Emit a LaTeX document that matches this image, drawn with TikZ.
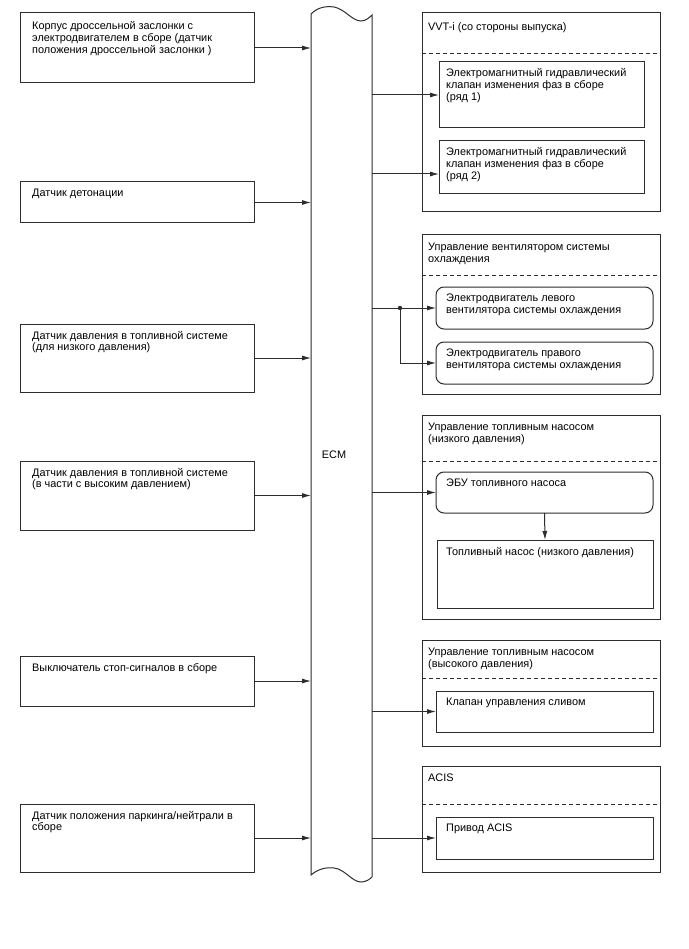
\documentclass[tikz,border=0pt]{standalone}
\usepackage{fontspec}
\setmainfont{Liberation Sans}
\usetikzlibrary{arrows.meta}
\definecolor{lc}{RGB}{45,45,45}
\tikzset{
 box/.style={draw=lc, line width=1pt, inner sep=0pt, outer sep=0pt, anchor=north west},
 rbox/.style={box, rounded corners=8pt},
 txt/.style={inner sep=0pt, anchor=north west, align=left, font=\fontsize{10.9}{11.7}\selectfont},
 arr/.style={draw=lc, line width=1pt, -{Latex[length=9pt,width=5pt]}},
 dsh/.style={draw=lc, line width=1pt, dash pattern=on 4pt off 3pt},
}
\begin{document}
\begin{tikzpicture}[x=1pt,y=-1pt]
\useasboundingbox[fill=white] (0,0) rectangle (688,949);

% ECM
\node[inner sep=0pt, outer sep=0pt, minimum width=61pt, minimum height=863pt, anchor=north west] (ecm) at (311,14) {};
\draw[draw=lc, line width=1pt]
 (311,14) .. controls (318,7) and (326,6) .. (334,7)
 .. controls (345,9) and (352,21) .. (361,21)
 .. controls (366,21) and (370,17) .. (372,15)
 -- (372,877)
 .. controls (370,879) and (366,882) .. (361,882)
 .. controls (352,882) and (345,869) .. (334,868)
 .. controls (326,867) and (318,869) .. (311,875) -- cycle;
\node[txt, anchor=center] (ecmt) at (334,455) {ECM};

% left boxes
\node[box, minimum width=234pt, minimum height=70pt] (L1) at (20,13) {};
\node[txt] (L1t) at (32,21.5) {Корпус дроссельной заслонки с\\электродвигателем в сборе (датчик\\положения дроссельной заслонки )};
\node[box, minimum width=234pt, minimum height=41pt] (L2) at (20,182) {};
\node[txt] (L2t) at (32,189) {Датчик детонации};
\node[box, minimum width=234pt, minimum height=68pt] (L3) at (20,324) {};
\node[txt] (L3t) at (32,331) {Датчик давления в топливной системе\\(для низкого давления)};
\node[box, minimum width=234pt, minimum height=69pt] (L4) at (20,461) {};
\node[txt] (L4t) at (32,468) {Датчик давления в топливной системе\\(в части с высоким давлением)};
\node[box, minimum width=234pt, minimum height=50pt] (L5) at (20,656) {};
\node[txt] (L5t) at (32,663) {Выключатель стоп-сигналов в сборе};
\node[box, minimum width=234pt, minimum height=68pt] (L6) at (20,804) {};
\node[txt] (L6t) at (32,811) {Датчик положения паркинга/нейтрали в\\сборе};

\foreach \n in {L1,L2,L3,L4,L5,L6}
  \draw[arr] (\n.east) -- (\n.east -| ecm.west);

% VVT-i
\node[box, minimum width=238pt, minimum height=199pt] (G1) at (422,13) {};
\node[txt] (G1t) at (428,22) {VVT-i (со стороны выпуска)};
\draw[dsh] (G1.west |- 0,54) -- (G1.east |- 0,54);
\node[box, minimum width=205pt, minimum height=66pt] (V1) at (439,62) {};
\node[txt] (V1t) at (446,68.5) {Электромагнитный гидравлический\\клапан изменения фаз в сборе\\(ряд 1)};
\node[box, minimum width=205pt, minimum height=53pt] (V2) at (439,141) {};
\node[txt] (V2t) at (446,147.5) {Электромагнитный гидравлический\\клапан изменения фаз в сборе\\(ряд 2)};
\draw[arr] (ecm.east |- V1.west) -- (V1.west);
\draw[arr] (ecm.east |- 0,174) -- (V2.west |- 0,174);

% Fan
\node[box, minimum width=238pt, minimum height=159pt] (G2) at (422,235) {};
\node[txt] (G2t) at (428,243) {Управление вентилятором системы\\охлаждения};
\draw[dsh] (G2.west |- 0,276) -- (G2.east |- 0,276);
\node[rbox, minimum width=217pt, minimum height=42pt] (F1) at (436,287) {};
\node[txt] (F1t) at (446,294) {Электродвигатель левого\\вентилятора системы охлаждения};
\node[rbox, minimum width=217pt, minimum height=42pt] (F2) at (436,342) {};
\node[txt] (F2t) at (446,349) {Электродвигатель правого\\вентилятора системы охлаждения};
\coordinate (J) at (F1.west -| 400,0);
\draw[arr] (ecm.east |- F1.west) -- (F1.west);
\draw[arr] (J) |- (F2.west);
\fill[lc] (J) circle (2.2pt);

% Fuel pump low
\node[box, minimum width=238pt, minimum height=204pt] (G3) at (422,415) {};
\node[txt] (G3t) at (428,423) {Управление топливным насосом\\(низкого давления)};
\draw[dsh] (G3.west |- 0,461) -- (G3.east |- 0,461);
\node[rbox, minimum width=217pt, minimum height=41pt] (P1) at (436,472) {};
\node[txt] (P1t) at (446,479) {ЭБУ топливного насоса};
\node[box, minimum width=216pt, minimum height=68pt] (P2) at (437,540) {};
\node[txt] (P2t) at (446,547.5) {Топливный насос (низкого давления)};
\draw[arr] (ecm.east |- P1.west) -- (P1.west);
\draw[arr] (P1.south) -- (P2.north);

% Fuel pump high
\node[box, minimum width=238pt, minimum height=106pt] (G4) at (422,640) {};
\node[txt] (G4t) at (428,648) {Управление топливным насосом\\(высокого давления)};
\draw[dsh] (G4.west |- 0,678) -- (G4.east |- 0,678);
\node[box, minimum width=217pt, minimum height=41pt] (H1) at (436,691) {};
\node[txt] (H1t) at (446,698) {Клапан управления сливом};
\draw[arr] (ecm.east |- H1.west) -- (H1.west);

% ACIS
\node[box, minimum width=238pt, minimum height=106pt] (G5) at (422,766) {};
\node[txt] (G5t) at (428,774) {ACIS};
\draw[dsh] (G5.west |- 0,804) -- (G5.east |- 0,804);
\node[box, minimum width=217pt, minimum height=42pt] (A1) at (436,817) {};
\node[txt] (A1t) at (446,824) {Привод ACIS};
\draw[arr] (ecm.east |- A1.west) -- (A1.west);
\end{tikzpicture}
\end{document}
